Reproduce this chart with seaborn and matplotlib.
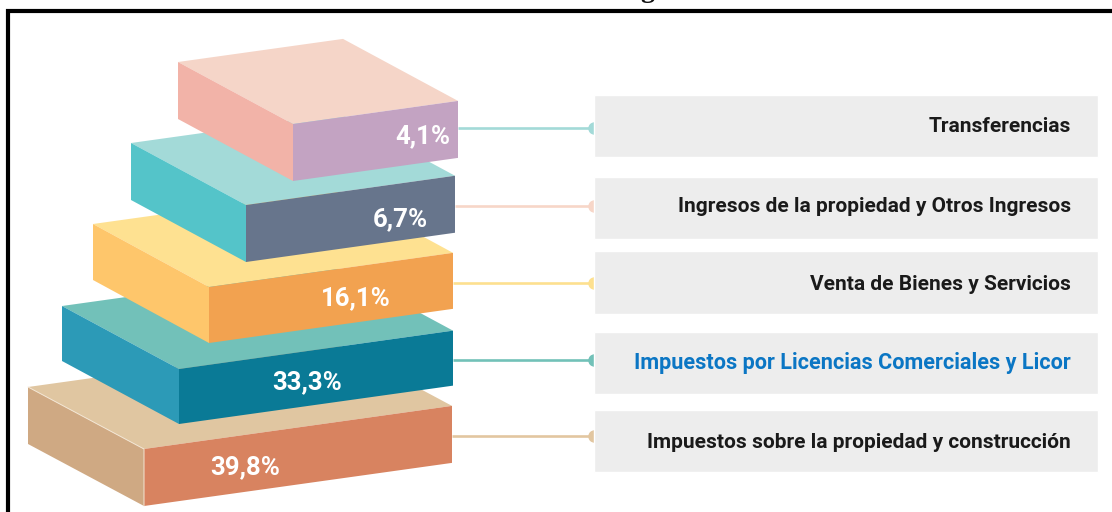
import matplotlib
matplotlib.use("Agg")
import matplotlib.pyplot as plt
import numpy as np
import pandas as pd
import seaborn as sns

# values, top slab first
categories = ["Transferencias", "Ingresos de la propiedad y Otros Ingresos", "Venta de Bienes y Servicios",
              "Impuestos por Licencias Comerciales y Licor", "Impuestos sobre la propiedad y construcción"]
shares = [4.1, 6.7, 16.1, 33.3, 39.8]

# colours of each slab
top_colors = ["#f5d5c8", "#a3dad8", "#fee191", "#72c1b9", "#e0c6a1"]
side_colors = ["#f2b3a8", "#54c4c9", "#fec66b", "#2c9ab7", "#cfa983"]
front_colors = ["#c3a3c2", "#67758c", "#f2a250", "#0a7a96", "#d88360"]
line_colors = ["#a3dad8", "#f7d6c8", "#fde08f", "#72c1b8", "#e2c6a0"]
text_colors = ["#1a1a1a", "#1a1a1a", "#1a1a1a", "#0b76c4", "#1a1a1a"]
text_sizes = [15, 15, 15, 15.6, 15]

# layout in image pixels
front_x = [293, 246, 209, 179, 144]
front_y = [124, 205, 287, 369, 449]
slab_w = [165, 209, 244, 274, 308]
slab_h = [57, 57, 56, 55, 57]
depth_x = [115, 115, 116, 117, 116]
depth_y = [62, 62, 63, 63, 62]
label_x = [423, 400, 356, 307, 245]
label_y = [143, 226, 305, 389, 474]
box_y = [126, 208, 282.5, 363, 441]
line_y = [128, 206, 283, 360, 436]
text_y = [127, 206.5, 284.5, 363, 442.5]
slope = -0.14
box_left, box_right = 594, 1098

sns.set_theme(style="white")
plt.rcParams["font.family"] = ["Roboto", "DejaVu Sans"]

fig = plt.figure(figsize=(11.12, 5.12), dpi=100)
ax = fig.add_axes([0, 0, 1, 1])

df = pd.DataFrame({"center": box_y, "span": [box_right - box_left] * 5})
sns.barplot(data=df, x="span", y="center", orient="y", native_scale=True, width=0.84,
            color="#ededed", saturation=1, left=box_left, ax=ax, zorder=3)

# slabs go from the bottom up so upper ones cover the lower ones
for i in range(4, -1, -1):
    x0, y0, w, h = front_x[i], front_y[i], slab_w[i], slab_h[i]
    dx, dz = depth_x[i], depth_y[i]
    dy = w * slope
    top = [(x0, y0), (x0 + w, y0 + dy), (x0 + w - dx, y0 + dy - dz), (x0 - dx, y0 - dz)]
    side = [(x0, y0), (x0 - dx, y0 - dz), (x0 - dx, y0 - dz + h), (x0, y0 + h)]
    front = [(x0, y0), (x0 + w, y0 + dy), (x0 + w, y0 + dy + h), (x0, y0 + h)]
    ax.fill(*zip(*top), color=top_colors[i], lw=0)
    ax.fill(*zip(*side), color=side_colors[i], lw=0)
    ax.fill(*zip(*front), color=front_colors[i], lw=0)

    ax.plot([x0 + w, box_left], [line_y[i], line_y[i]], color=line_colors[i], lw=1.9, zorder=1, solid_capstyle="butt")
    ax.plot([box_left], [line_y[i]], "o", color=line_colors[i], ms=9, mew=0, zorder=2)

    ax.text(label_x[i], label_y[i], f"{shares[i]:.1f}%".replace(".", ","), color="white", fontsize=18.5,
            fontweight="bold", ha="center", va="baseline", zorder=5)
    ax.text(1071, text_y[i], categories[i], color=text_colors[i], fontsize=text_sizes[i], fontweight="bold",
            ha="right", va="center", zorder=5)

# thin light edge on the bottom slab
ax.plot([front_x[4] - depth_x[4], front_x[4], front_x[4]],
        [front_y[4] - depth_y[4], front_y[4], front_y[4] + slab_h[4]], color="#f3e6d4", lw=0.7)

ax.set_xlim(0, 1112)
ax.set_ylim(512, 0)
ax.set_xlabel("")
ax.set_ylabel("")
ax.set_xticks([])
ax.set_yticks([])
for s in ax.spines.values():
    s.set_visible(False)

# black frame of the source picture, open at the bottom and right
ax.plot([8, 8, 1112], [512, 11, 11], color="black", lw=3, zorder=6, solid_joinstyle="miter")

# descender of the title letter, cut off at the top edge as in the reference
ax.text(647, -3, "g", color="#111111", fontsize=20, fontweight="bold", family="Liberation Serif",
        ha="center", va="baseline", clip_on=True)

fig.savefig("out.png", dpi=100)
